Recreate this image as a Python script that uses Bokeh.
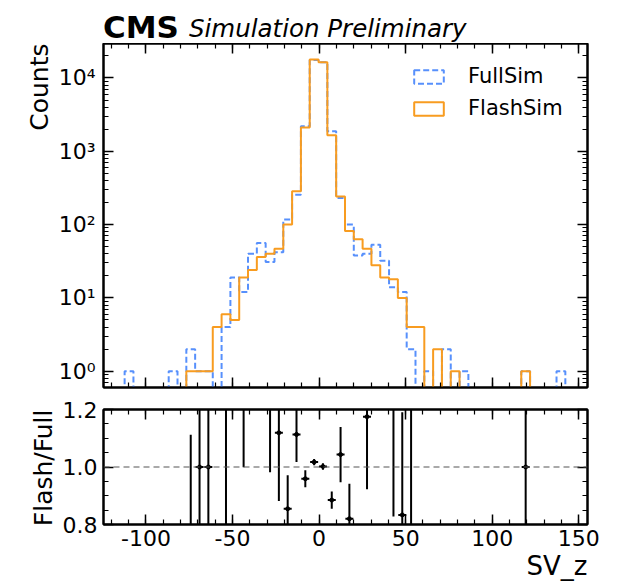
import numpy as np
from bokeh.plotting import figure
from bokeh.layouts import column
from bokeh.models import (Div, Title, LogAxis, LinearAxis, FixedTicker,
                          CustomJSTickFormatter, Span, Range1d)
from bokeh.embed import file_html
from bokeh.resources import INLINE

# ---------------- data ----------------
BIN_START = -112.3
BIN_WIDTH = 5.09
N_BINS = 50
series_names = ["FullSim", "FlashSim"]
full_counts = [1, 0, 0, 0, 0, 1, 0, 2, 1, 1,
               0, 4, 19, 12, 40, 56, 31, 42, 117, 256,
               2200, 17600, 16400, 1870, 231, 100, 38, 40, 53, 32,
               14, 12, 2, 0, 1, 0, 2, 0, 1, 0,
               0, 0, 0, 0, 0, 1, 0, 0, 0, 1]
flash_counts = [0, 0, 0, 0, 0, 0, 0, 1, 1, 1,
                4, 6, 5, 19, 24, 36, 40, 47, 100, 285,
                2110, 17900, 16430, 1655, 241, 82, 63, 47, 28, 19,
                18, 10, 4, 4, 0, 2, 0, 1, 0, 0,
                0, 0, 0, 0, 0, 1, 0, 0, 0, 0]
x_major_ticks = [-100, -50, 0, 50, 100, 150]
x_minor_ticks = list(range(-120, 160, 10))
y_major_ticks = [1, 10, 100, 1000, 10000]
ratio_ticks = [0.8, 1.0, 1.2]
ratio_minor = [0.85, 0.9, 0.95, 1.05, 1.1, 1.15]

FONT = "DejaVu Sans"
BLUE = "#5790fc"
ORANGE = "#f89c20"
TICK_FS = "22px"
HDR_H = 43

edges = BIN_START + BIN_WIDTH * np.arange(N_BINS + 1)
centers = 0.5 * (edges[:-1] + edges[1:])
FLOOR = 1e-3


def step_path(counts):
    c = np.asarray(counts, float)
    c = np.where(c > 0, c, FLOOR)
    xs = np.concatenate([[edges[0]], np.repeat(edges, 2)[1:-1], [edges[-1]]])
    ys = np.concatenate([[FLOOR], np.repeat(c, 2), [FLOOR]])
    return xs, ys


def style_axis(ax, labels=True, standoff=7):
    ax.axis_line_width = 2
    ax.axis_line_color = "black"
    ax.major_tick_in = 10
    ax.major_tick_out = 0
    ax.minor_tick_in = 5
    ax.minor_tick_out = 0
    ax.major_tick_line_width = 1.5
    ax.minor_tick_line_width = 1.2
    ax.major_tick_line_color = "black"
    ax.minor_tick_line_color = "black"
    ax.major_label_text_font = FONT
    if labels:
        ax.major_label_text_font_size = TICK_FS
        ax.major_label_text_color = "black"
        ax.major_label_standoff = standoff
    else:
        ax.major_label_text_font_size = "1px"
        ax.major_label_text_color = None
        ax.major_label_standoff = 0


log_fmt = CustomJSTickFormatter(code="""
const sup = {"0":"\u2070","1":"\u00b9","2":"\u00b2","3":"\u00b3","4":"\u2074",
             "5":"\u2075","6":"\u2076","7":"\u2077","8":"\u2078","9":"\u2079","-":"\u207b"};
const e = Math.round(Math.log10(tick));
return "10" + String(e).split("").map(c => sup[c]).join("");
""")
int_fmt = CustomJSTickFormatter(code="return tick.toFixed(0);")
dec_fmt = CustomJSTickFormatter(code="return tick.toFixed(1);")

x_range = Range1d(-124.5, 155)

# ---------------- header (CMS label) ----------------
hdr_html = (
    '<div style="position:relative;width:618px;height:43px;overflow:visible;'
    'font-family:\'DejaVu Sans\';color:black;">'
    '<span style="position:absolute;left:103px;top:12px;font-size:31px;line-height:31px;'
    'font-weight:bold;white-space:nowrap;">CMS</span>'
    '<span style="position:absolute;left:189px;top:17px;font-size:24.5px;line-height:24.5px;'
    'font-style:italic;white-space:nowrap;">Simulation Preliminary</span>'
    '</div>'
)
hdr = Div(text=hdr_html, width=618, height=HDR_H, margin=(0, 0, 0, 0))

# ---------------- main panel ----------------
p = figure(width=618, height=398 - HDR_H, y_axis_type="log",
           x_range=x_range, y_range=Range1d(0.6, 29500), title=None,
           output_backend="svg", toolbar_location=None,
           min_border_left=103, min_border_right=31, min_border_top=0, min_border_bottom=11,
           background_fill_color="white", border_fill_color="white",
           outline_line_color="black", outline_line_width=2)
p.xgrid.visible = False
p.ygrid.visible = False

log_ticker = FixedTicker(ticks=y_major_ticks,
                         minor_ticks=[m * 10.0 ** k for k in range(-1, 5) for m in range(2, 10)])
x_ticker = FixedTicker(ticks=x_major_ticks, minor_ticks=x_minor_ticks)

p.yaxis.ticker = log_ticker
p.yaxis.formatter = log_fmt
style_axis(p.yaxis[0], True, 8)
p.xaxis.ticker = x_ticker
style_axis(p.xaxis[0], False)

ra = LogAxis(ticker=log_ticker)
style_axis(ra, False)
p.add_layout(ra, "right")
ta = LinearAxis(ticker=x_ticker)
style_axis(ta, False)
p.add_layout(ta, "above")

xs, ys = step_path(full_counts)
p.patch(xs, ys, fill_color=None, line_color=BLUE, line_width=2, line_dash="6 3",
        legend_label=series_names[0])
xs, ys = step_path(flash_counts)
p.patch(xs, ys, fill_color=None, line_color=ORANGE, line_width=2,
        legend_label=series_names[1])

lg = p.legend[0]
lg.location = (307, 267)
lg.border_line_color = None
lg.background_fill_alpha = 0
lg.glyph_width = 37
lg.glyph_height = 17
lg.label_standoff = 21
lg.spacing = 8
lg.padding = 0
lg.margin = 0
lg.label_text_font = FONT
lg.label_text_font_size = "21px"
lg.label_text_color = "black"

p.add_layout(Title(text="Counts", align="right", text_font=FONT, text_font_size="25px",
                   text_font_style="normal", text_color="black", standoff=4), "left")

# ---------------- ratio panel ----------------
p2 = figure(width=618, height=186, title=None,
            x_range=x_range, y_range=Range1d(0.8, 1.2),
            output_backend="svg", toolbar_location=None,
            min_border_left=103, min_border_right=31, min_border_top=11, min_border_bottom=60,
            background_fill_color="white", border_fill_color="white",
            outline_line_color="black", outline_line_width=2)
p2.xgrid.visible = False
p2.ygrid.visible = False
r_ticker = FixedTicker(ticks=ratio_ticks, minor_ticks=ratio_minor)
p2.yaxis.ticker = r_ticker
p2.yaxis.formatter = dec_fmt
style_axis(p2.yaxis[0], True, 6)
p2.xaxis.ticker = x_ticker
p2.xaxis.formatter = int_fmt
style_axis(p2.xaxis[0], True, 5)
ra2 = LinearAxis(ticker=r_ticker)
style_axis(ra2, False)
p2.add_layout(ra2, "right")
ta2 = LinearAxis(ticker=x_ticker)
style_axis(ta2, False)
p2.add_layout(ta2, "above")

p2.add_layout(Span(location=1.0, dimension="width", line_color="#555555",
                   line_dash="6 4", line_width=1.2))

fc = np.asarray(flash_counts, float)
uc = np.asarray(full_counts, float)
mask = (fc > 0) & (uc > 0)
ratio = fc[mask] / uc[mask]
rerr = ratio * np.sqrt(1.0 / fc[mask] + 1.0 / uc[mask])
xc = centers[mask]
p2.segment(x0=xc, y0=ratio - rerr, x1=xc, y1=ratio + rerr, line_color="black", line_width=2)
p2.scatter(xc, ratio, marker="dash", size=8, line_color="black", line_width=2)
p2.scatter(xc, ratio, marker="circle", size=4, fill_color="black", line_color="black")

p2.add_layout(Title(text="Flash/Full", align="right", text_font=FONT, text_font_size="25px",
                    text_font_style="normal", text_color="black", standoff=4), "left")
p2.add_layout(Title(text="SV_z", align="right", text_font=FONT, text_font_size="26px",
                    text_font_style="normal", text_color="black", standoff=0), "below")

layout = column(hdr, p, p2, spacing=0)
open("out.html", "w").write(file_html(layout, INLINE))
